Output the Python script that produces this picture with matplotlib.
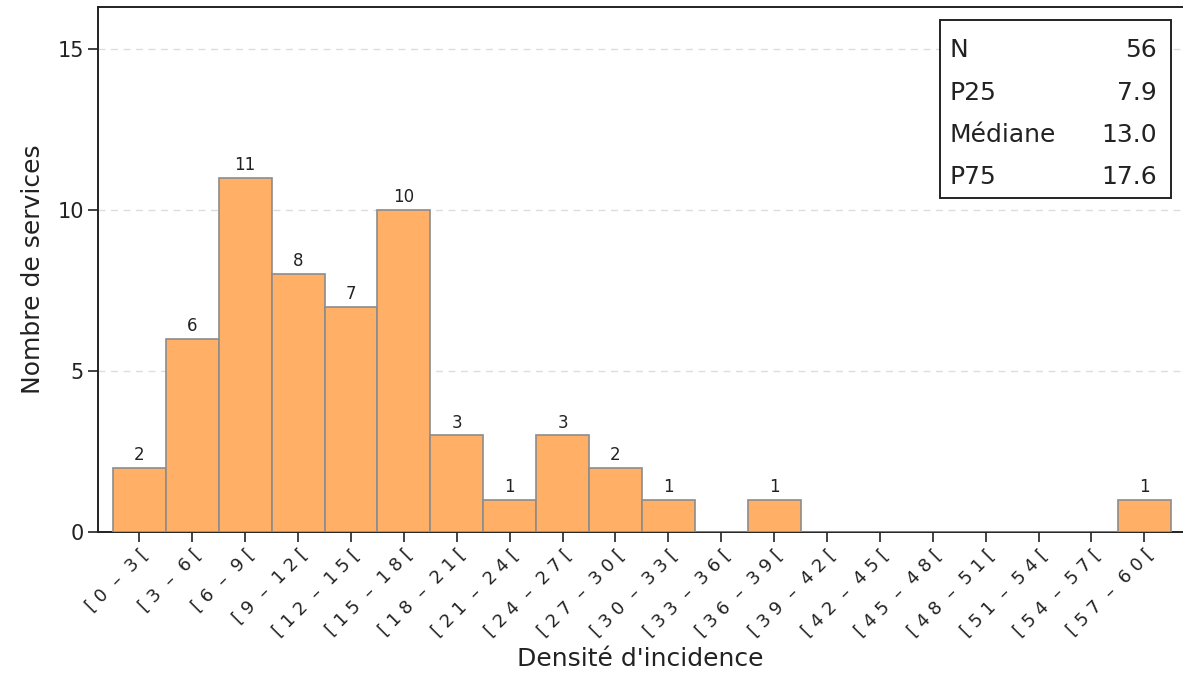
import matplotlib
matplotlib.use("Agg")
import matplotlib.pyplot as plt
from matplotlib.patches import Rectangle

plt.rcParams['font.family'] = ['DejaVu Sans']

# bins of 3 from 0 to 60
bin_starts = list(range(0, 60, 3))
counts = [2, 6, 11, 8, 7, 10, 3, 1, 3, 2, 1, 0, 1, 0, 0, 0, 0, 0, 0, 1]


def spaced(a, b):
    # letter-spaced label like "[ 9 – 1 2 ["
    return "[ " + " ".join(str(a)) + "  \u2013  " + " ".join(str(b)) + " ["


tick_labels = [spaced(a, a + 3) for a in bin_starts]

stat_names = ["N", "P25", "Médiane", "P75"]
stat_values = ["56", "7.9", "13.0", "17.6"]

W, H = 1183, 677
fig = plt.figure(figsize=(W / 100, H / 100), dpi=100)
ax = fig.add_axes([98 / W, 145 / H, (W - 98) / W, 525 / H])

pos = list(range(len(counts)))
ax.bar(pos, counts, width=1.0, color="#FFB066", edgecolor="#8C8C8C", linewidth=1.2, zorder=3)
for x, c in zip(pos, counts):
    if c > 0:
        ax.text(x, c + 0.12, str(c), ha="center", va="bottom", fontsize=12, color="#222222")

ax.set_xlim(-0.784, 19.73)
ax.set_ylim(0, 16.3)
ax.set_yticks([0, 5, 10, 15])
ax.set_xticks(pos)
ax.set_xticklabels(tick_labels, rotation=45, ha="right", va="top", rotation_mode="anchor", fontsize=13)
ax.tick_params(axis="y", labelsize=15, length=7, width=1.2, colors="#222222", pad=3)
ax.tick_params(axis="x", length=7, width=1.2, colors="#222222", pad=3)
ax.grid(axis="y", color="#DDDDDD", linestyle=(0, (5, 4)), linewidth=1, zorder=0)

ax.spines["right"].set_visible(False)
for s in ["left", "top", "bottom"]:
    ax.spines[s].set_linewidth(1.4)
    ax.spines[s].set_color("#222222")

ax.set_xlabel("Densité d'incidence", fontsize=18, color="#222222")
ax.set_ylabel("Nombre de services", fontsize=18, color="#222222")
ax.xaxis.set_label_coords(0.5, (532 - 647) / 525)
ax.yaxis.set_label_coords((45 - 98) / (W - 98), 0.5)


# statistics box
def px(x, y):
    return (x - 98) / (W - 98), (532 - y) / 525


x0, y0 = px(940, 198)
x1, y1 = px(1171, 20)
ax.add_patch(Rectangle((x0, y0), x1 - x0, y1 - y0, transform=ax.transAxes,
                       facecolor="white", edgecolor="#222222", linewidth=1.4, zorder=5))
rows_y = [50, 93, 135, 177]
for name, val, ry in zip(stat_names, stat_values, rows_y):
    tx, ty = px(950, ry)
    ax.text(tx, ty, name, transform=ax.transAxes, ha="left", va="center", fontsize=18, color="#222222", zorder=6)
    tx, ty = px(1157, ry)
    ax.text(tx, ty, val, transform=ax.transAxes, ha="right", va="center", fontsize=18, color="#222222", zorder=6)

fig.savefig("out.png", dpi=100)
